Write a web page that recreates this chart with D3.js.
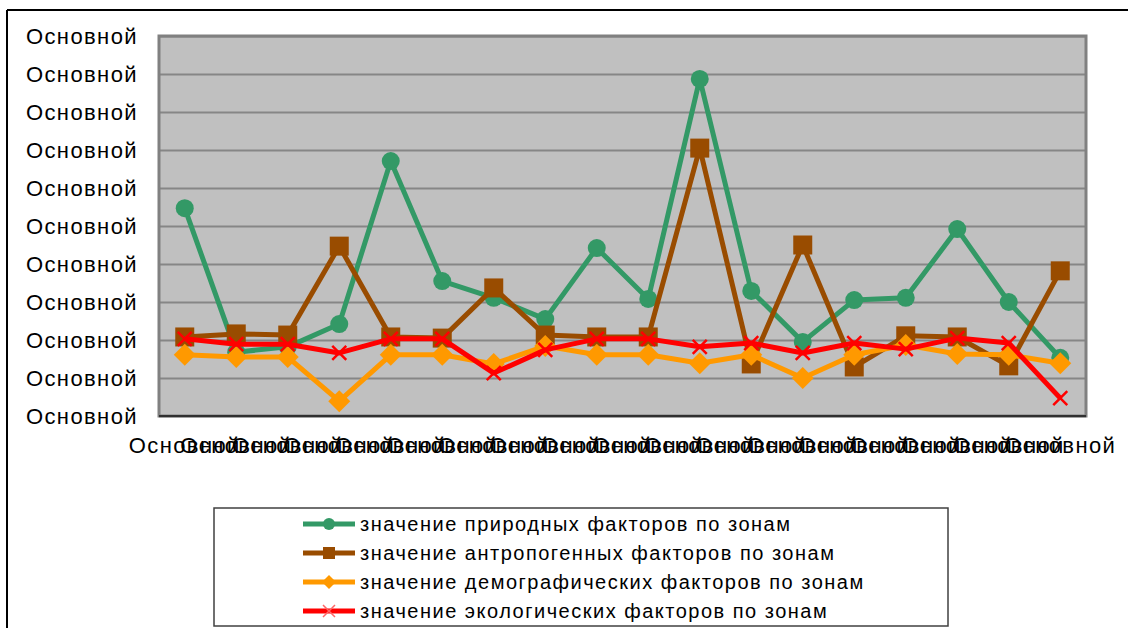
<!DOCTYPE html>
<html>
<head>
<meta charset="utf-8">
<script src="https://cdn.jsdelivr.net/npm/d3@7"></script>
<style>
  body { margin: 0; background: #fff; }
  svg text { font-family: "Liberation Sans", Arial, sans-serif; fill: #000; }
</style>
</head>
<body>
<svg width="1128" height="628"></svg>
<script>
// data
var categories = ['Основной','Основной','Основной','Основной','Основной','Основной','Основной','Основной','Основной',
                  'Основной','Основной','Основной','Основной','Основной','Основной','Основной','Основной','Основной'];
var yTickLabels = ['Основной','Основной','Основной','Основной','Основной','Основной','Основной','Основной','Основной','Основной','Основной'];

var natural   = [5.47, 1.68, 1.82, 2.42, 6.71, 3.55, 3.11, 2.55, 4.42, 3.08, 8.87, 3.29, 1.95, 3.05, 3.11, 4.92, 3.00, 1.53];
var anthropo  = [2.08, 2.16, 2.13, 4.47, 2.08, 2.05, 3.37, 2.13, 2.08, 2.08, 7.05, 1.37, 4.50, 1.29, 2.11, 2.08, 1.32, 3.82];
var demograph = [1.61, 1.55, 1.55, 0.39, 1.61, 1.61, 1.37, 1.84, 1.61, 1.61, 1.39, 1.61, 1.00, 1.61, 1.87, 1.63, 1.61, 1.39];
var ecology   = [2.03, 1.89, 1.89, 1.66, 2.03, 2.03, 1.13, 1.74, 2.03, 2.03, 1.82, 1.92, 1.66, 1.92, 1.76, 2.05, 1.92, 0.47];

var seriesNames = [
  'значение природных факторов по зонам',
  'значение антропогенных факторов по зонам',
  'значение демографических факторов по зонам',
  'значение экологических факторов по зонам'
];

var series = [
  {name: seriesNames[0], values: natural,   color: '#339966', marker: 'circle'},
  {name: seriesNames[1], values: anthropo,  color: '#994C00', marker: 'square'},
  {name: seriesNames[2], values: demograph, color: '#FF9900', marker: 'diamond'},
  {name: seriesNames[3], values: ecology,   color: '#FF0000', marker: 'x'}
];

var svg = d3.select('svg');

// outer frame (only top and left edges are visible)
svg.append('line').attr('x1', 7).attr('y1', 10).attr('x2', 1128).attr('y2', 10)
  .attr('stroke', '#000').attr('stroke-width', 2);
svg.append('line').attr('x1', 7).attr('y1', 10).attr('x2', 7).attr('y2', 628)
  .attr('stroke', '#000').attr('stroke-width', 2);

var plot = {left: 159, top: 36, right: 1086, bottom: 416};

var x = d3.scaleBand()
  .domain(d3.range(categories.length))
  .range([plot.left, plot.right]);

var y = d3.scaleLinear()
  .domain([0, 10])
  .range([plot.bottom, plot.top]);

// plot background
svg.append('rect')
  .attr('x', plot.left).attr('y', plot.top)
  .attr('width', plot.right - plot.left).attr('height', plot.bottom - plot.top)
  .attr('fill', '#C0C0C0');

// gridlines
var gridAxis = d3.axisLeft(y).ticks(10).tickSize(-(plot.right - plot.left)).tickFormat('');
var grid = svg.append('g').attr('transform', 'translate(' + plot.left + ',0)').call(gridAxis);
grid.select('.domain').remove();
grid.selectAll('line').attr('stroke', '#868686').attr('stroke-width', 2);

// plot border
svg.append('rect')
  .attr('x', plot.left).attr('y', plot.top)
  .attr('width', plot.right - plot.left).attr('height', plot.bottom - plot.top)
  .attr('fill', 'none').attr('stroke', '#808080').attr('stroke-width', 3);
svg.append('line')
  .attr('x1', plot.left).attr('x2', plot.right).attr('y1', plot.bottom).attr('y2', plot.bottom)
  .attr('stroke', '#303030').attr('stroke-width', 2);

// y labels
var yAxis = d3.axisLeft(y).ticks(10).tickSize(0).tickPadding(21)
  .tickFormat((d, i) => yTickLabels[i]);
var ya = svg.append('g').attr('transform', 'translate(' + plot.left + ',0)').call(yAxis);
ya.select('.domain').remove();
ya.selectAll('text')
  .style('font-family', '"Liberation Sans", Arial, sans-serif')
  .style('font-size', '22px').style('letter-spacing', '1.4px').attr('fill', '#000');

// x labels
var xAxis = d3.axisBottom(x).tickSize(0).tickPadding(21).tickFormat(i => categories[i]);
var xa = svg.append('g').attr('transform', 'translate(0,' + plot.bottom + ')').call(xAxis);
xa.select('.domain').remove();
xa.selectAll('text')
  .style('font-family', '"Liberation Sans", Arial, sans-serif')
  .style('font-size', '22px').style('letter-spacing', '1.4px').attr('fill', '#000');

var line = d3.line()
  .x((d, i) => x(i) + x.bandwidth() / 2)
  .y(d => y(d));

function drawMarker(sel, type, color) {
  if (type === 'circle') {
    sel.append('circle').attr('r', 9).attr('fill', color);
  } else if (type === 'square') {
    sel.append('rect').attr('x', -9.5).attr('y', -9.5).attr('width', 19).attr('height', 19).attr('fill', color);
  } else if (type === 'diamond') {
    sel.append('path').attr('d', 'M0,-11L11,0L0,11L-11,0Z').attr('fill', color);
  } else {
    sel.append('path').attr('d', 'M-7,-7L7,7M-7,7L7,-7').attr('stroke', color).attr('stroke-width', 2.5);
  }
}

series.forEach(s => {
  var gs = svg.append('g');
  gs.append('path')
    .datum(s.values)
    .attr('d', line)
    .attr('fill', 'none')
    .attr('stroke', s.color)
    .attr('stroke-width', 5)
    .attr('stroke-linejoin', 'round');
  gs.selectAll('g.mk')
    .data(s.values)
    .enter().append('g')
    .attr('class', 'mk')
    .attr('transform', (d, i) => 'translate(' + (x(i) + x.bandwidth() / 2) + ',' + y(d) + ')')
    .each(function() { drawMarker(d3.select(this), s.marker, s.color); });
});

// legend
var legend = svg.append('g');
legend.append('rect')
  .attr('x', 214).attr('y', 508).attr('width', 734).attr('height', 118)
  .attr('fill', '#fff').attr('stroke', '#404040').attr('stroke-width', 1.5);

var legendY = d3.scalePoint().domain(d3.range(series.length)).range([524, 611]);

series.forEach((s, i) => {
  var row = legend.append('g').attr('transform', 'translate(0,' + legendY(i) + ')');
  row.append('line').attr('x1', 303).attr('x2', 355).attr('y1', 0).attr('y2', 0)
    .attr('stroke', s.color).attr('stroke-width', 5);
  var m = row.append('g').attr('transform', 'translate(329,0)');
  if (s.marker === 'circle') m.append('circle').attr('r', 6).attr('fill', s.color);
  else if (s.marker === 'square') m.append('rect').attr('x', -6).attr('y', -6).attr('width', 12).attr('height', 12).attr('fill', s.color);
  else if (s.marker === 'diamond') m.append('path').attr('d', 'M0,-7L7,0L0,7L-7,0Z').attr('fill', s.color);
  else m.append('path').attr('d', 'M-6,-6L6,6M-6,6L6,-6').attr('stroke', '#ff6666').attr('stroke-width', 1.5);
  row.append('text')
    .attr('x', 360).attr('y', 0).attr('dy', '0.35em')
    .style('font-size', '20px').style('letter-spacing', '1.5px')
    .text(s.name);
});
</script>
</body>
</html>
